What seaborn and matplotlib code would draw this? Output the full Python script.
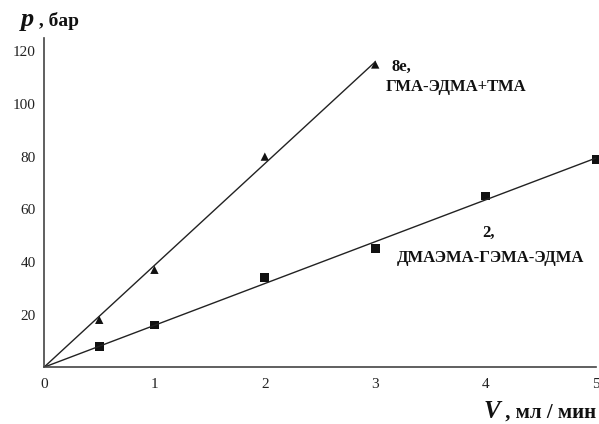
import matplotlib
matplotlib.use("Agg")
import matplotlib.pyplot as plt
import seaborn as sns
import numpy as np
import pandas as pd

# values
v_tri = [0.5, 1, 2, 3]          # ГМА-ЭДМА+ТМА
p_tri = [18, 37, 80, 115]
v_sq = [0.5, 1, 2, 3, 4, 5]     # ДМАЭМА-ГЭМА-ЭДМА
p_sq = [8, 16, 34, 45, 65, 79]
x_ticks = [0, 1, 2, 3, 4, 5]
y_ticks = [20, 40, 60, 80, 100, 120]

sns.set_theme(style="white")
plt.rcParams['font.family'] = ['Liberation Serif', 'DejaVu Serif']

df_tri = pd.DataFrame({"V": v_tri, "p": p_tri})
df_sq = pd.DataFrame({"V": v_sq, "p": p_sq})


def fit_origin(x, y, x_end):
    # least squares line through the origin
    x = np.asarray(x, float)
    y = np.asarray(y, float)
    k = (x * y).sum() / (x * x).sum()
    return pd.DataFrame({"V": [0, x_end], "p": [0, k * x_end]})


fig, ax = plt.subplots(figsize=(5.99, 4.24), dpi=100)
fig.subplots_adjust(left=0.0735, right=0.995, bottom=0.134, top=0.91)

sns.lineplot(data=fit_origin(v_tri, p_tri, 3), x="V", y="p", ax=ax,
             color="#222222", lw=1.0)
sns.lineplot(data=fit_origin(v_sq, p_sq, 5), x="V", y="p", ax=ax,
             color="#222222", lw=1.0)
sns.scatterplot(data=df_tri, x="V", y="p", ax=ax, marker="^", s=36,
                color="#111111", edgecolor="none", clip_on=False)
sns.scatterplot(data=df_sq, x="V", y="p", ax=ax, marker="s", s=40,
                color="#111111", edgecolor="none", clip_on=False)

ax.set_xlim(0, 5)
ax.set_ylim(0, 125)
ax.set_xticks(x_ticks)
ax.set_yticks(y_ticks)
ax.tick_params(direction="in", length=3, width=0.6, color="#bbbbbb",
               labelsize=11, labelcolor="#222222", pad=6)
ax.tick_params(axis="x", pad=8)
sns.despine(ax=ax)
for s in ("left", "bottom"):
    ax.spines[s].set_color("#444444")
    ax.spines[s].set_linewidth(1.2)

ax.set_xlabel("")
ax.set_ylabel("")

dark = "#111111"
# y axis title: "p , бар"
tp = fig.text(0.035, 0.939, "p", fontsize=19, fontweight="bold",
              style="italic", color=dark, va="baseline")
fig.canvas.draw()
r = fig.canvas.get_renderer()
bb = tp.get_window_extent(r)
fig.text(bb.x1 / fig.bbox.width, 0.939, " , бар", fontsize=14,
         fontweight="bold", color=dark, va="baseline")

# x axis title: "V , мл / мин", right aligned to the figure edge
tx = fig.text(0.996, 0.014, " , мл / мин", fontsize=15, fontweight="bold",
              color=dark, ha="right", va="baseline")
fig.canvas.draw()
bb = tx.get_window_extent(r)
fig.text(bb.x0 / fig.bbox.width, 0.014, "V", fontsize=18,
         fontweight="bold", style="italic", color=dark, ha="right",
         va="baseline")

ax.text(3.15, 114, "8e,", fontsize=12, fontweight="bold", color=dark,
        va="center")
ax.text(3.09, 106.5, "ГМА-ЭДМА+ТМА", fontsize=12, fontweight="bold",
        color=dark, va="center")
ax.text(4.03, 51, "2,", fontsize=12, fontweight="bold", color=dark,
        ha="center", va="center")
ax.text(4.04, 41.5, "ДМАЭМА-ГЭМА-ЭДМА", fontsize=12, fontweight="bold",
        color=dark, ha="center", va="center")

fig.savefig("out.png", dpi=100)
